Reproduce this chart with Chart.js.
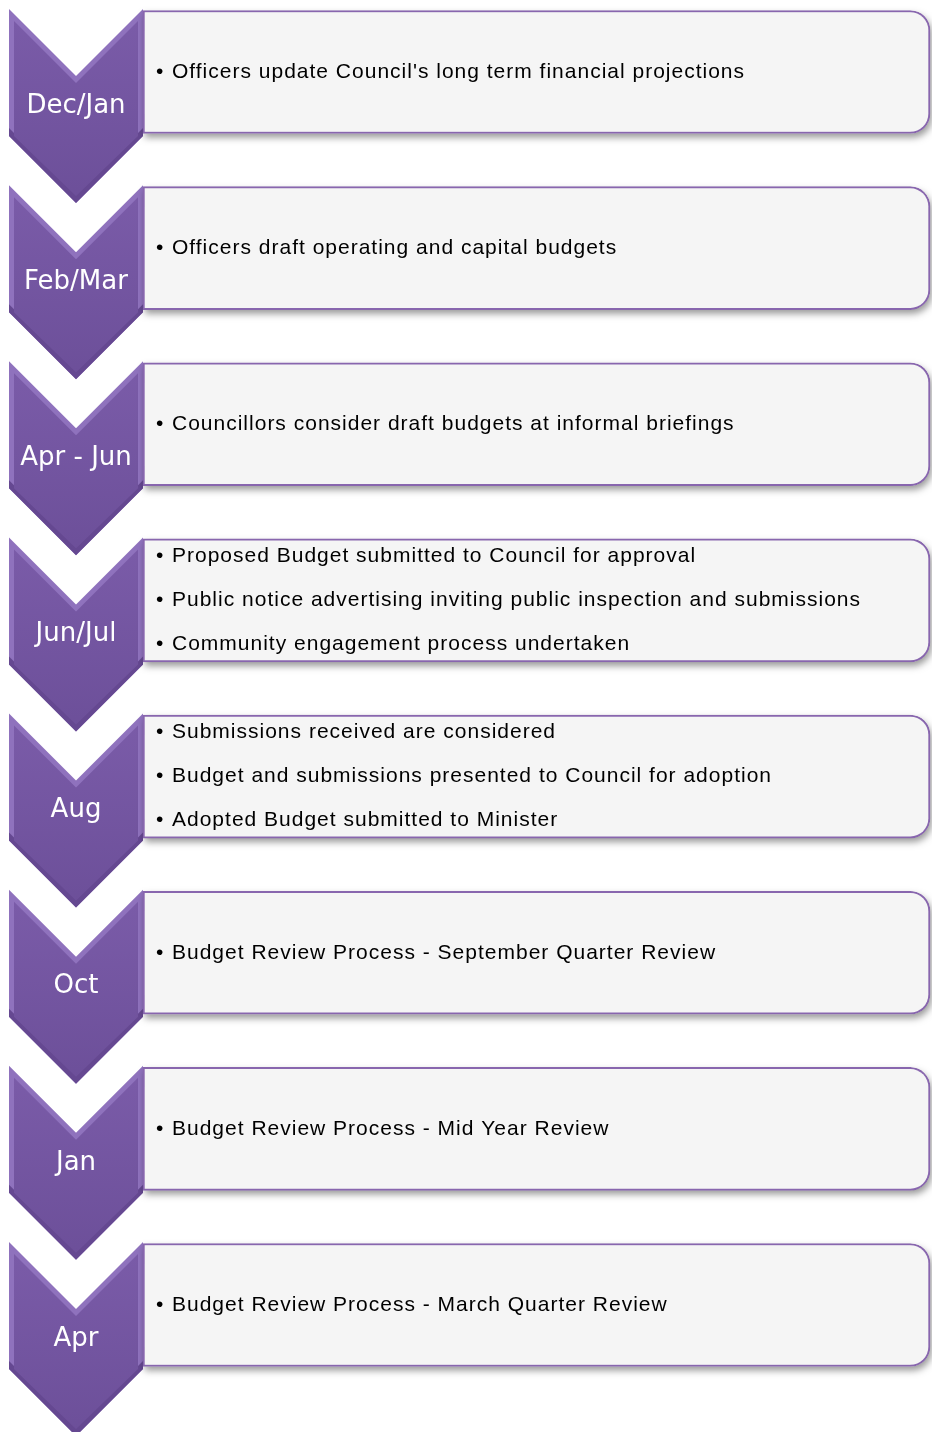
<!DOCTYPE html>
<html>
<head>
<meta charset="utf-8">
<script src="https://cdn.jsdelivr.net/npm/chart.js@4/dist/chart.umd.min.js"></script>
<style>
  html, body { margin: 0; padding: 0; background: #ffffff; }
  #wrap { width: 932px; height: 1432px; }
</style>
</head>
<body>
<div id="wrap"><canvas id="process" width="932" height="1432"></canvas></div>
<script>
// Stages of the budget cycle (chevrons)
var stages = ['Dec/Jan', 'Feb/Mar', 'Apr - Jun', 'Jun/Jul', 'Aug', 'Oct', 'Jan', 'Apr'];

// Activities for each stage (bullets in the boxes)
var tasks = [
  ["Officers update Council's long term financial projections"],
  ['Officers draft operating and capital budgets'],
  ['Councillors consider draft budgets at informal briefings'],
  ['Proposed Budget submitted to Council for approval',
   'Public notice advertising inviting public inspection and submissions',
   'Community engagement process undertaken'],
  ['Submissions received are considered',
   'Budget and submissions presented to Council for adoption',
   'Adopted Budget submitted to Minister'],
  ['Budget Review Process - September Quarter Review'],
  ['Budget Review Process - Mid Year Review'],
  ['Budget Review Process - March Quarter Review']
];

// every box spans the full width of the value axis
var boxSpan = [1, 1, 1, 1, 1, 1, 1, 1];

var purpleBorder = '#8866ae';

// Chevron drawn left of each box, placed from the category scale
function drawChevron(ctx, cx, top) {
  var hw = 67, side = 127, d = 67;
  var l = cx - hw, r = cx + hw;
  // outer (bevel) shape
  ctx.beginPath();
  ctx.moveTo(l, top);
  ctx.lineTo(cx, top + d);
  ctx.lineTo(r, top);
  ctx.lineTo(r, top + side);
  ctx.lineTo(cx, top + side + d);
  ctx.lineTo(l, top + side);
  ctx.closePath();
  ctx.fillStyle = '#8f72bd';
  ctx.fill();
  // darker lower bevel
  ctx.beginPath();
  ctx.moveTo(l, top + side - 8);
  ctx.lineTo(cx, top + side + d - 8);
  ctx.lineTo(r, top + side - 8);
  ctx.lineTo(r, top + side);
  ctx.lineTo(cx, top + side + d);
  ctx.lineTo(l, top + side);
  ctx.closePath();
  ctx.fillStyle = '#654891';
  ctx.fill();
  // inner face
  var i = 5, k = 7;
  ctx.beginPath();
  ctx.moveTo(l + i, top + i + k);
  ctx.lineTo(cx, top + d + k);
  ctx.lineTo(r - i, top + i + k);
  ctx.lineTo(r - i, top + side);
  ctx.lineTo(cx, top + side + d - k);
  ctx.lineTo(l + i, top + side);
  ctx.closePath();
  var g = ctx.createLinearGradient(0, top, 0, top + side + d);
  g.addColorStop(0, '#7b5ca9');
  g.addColorStop(1, '#6c4f99');
  ctx.fillStyle = g;
  ctx.fill();
}

var processPlugin = {
  id: 'processPlugin',
  beforeDatasetsDraw: function (chart) {
    var ctx = chart.ctx;
    var yScale = chart.scales.y;
    ctx.save();
    // chevrons
    stages.forEach(function (s, idx) {
      var c = yScale.getPixelForValue(idx);
      drawChevron(ctx, 76, c - 63);
    });
    // box shadows
    var meta = chart.getDatasetMeta(0);
    meta.data.forEach(function (bar) {
      var p = bar.getProps(['x', 'y', 'base', 'height'], true);
      var top = p.y - p.height / 2;
      ctx.save();
      ctx.shadowColor = 'rgba(0,0,0,0.40)';
      ctx.shadowBlur = 7;
      ctx.shadowOffsetX = 2;
      ctx.shadowOffsetY = 4;
      ctx.beginPath();
      ctx.roundRect(p.base, top, p.x - p.base, p.height, [0, 20, 20, 0]);
      ctx.fillStyle = '#f5f5f5';
      ctx.fill();
      ctx.restore();
    });
    ctx.restore();
  },
  afterDatasetsDraw: function (chart) {
    var ctx = chart.ctx;
    var yScale = chart.scales.y;
    var meta = chart.getDatasetMeta(0);
    ctx.save();
    // chevron labels
    ctx.fillStyle = '#ffffff';
    ctx.textAlign = 'center';
    ctx.textBaseline = 'middle';
    ctx.font = '26px "DejaVu Sans"';
    stages.forEach(function (s, idx) {
      var c = yScale.getPixelForValue(idx);
      ctx.fillText(s, 76, c + 34);
    });
    // bullet texts
    ctx.fillStyle = '#000000';
    ctx.textAlign = 'left';
    ctx.font = '21px "Liberation Sans"';
    ctx.letterSpacing = '1px';
    tasks.forEach(function (lines, idx) {
      var bar = meta.data[idx];
      var c = bar.getProps(['y'], true).y;
      var left = bar.getProps(['base'], true).base;
      var gap = 44;
      var start = c - (lines.length - 1) * gap / 2;
      lines.forEach(function (t, j) {
        var y = start + j * gap;
        ctx.fillText('\u2022', left + 13, y);
        ctx.fillText(t, left + 29, y);
      });
    });
    ctx.restore();
  }
};

var processChart = new Chart(document.getElementById('process'), {
  type: 'bar',
  data: {
    labels: stages,
    datasets: [{
      data: boxSpan,
      backgroundColor: '#f5f5f5',
      borderColor: purpleBorder,
      borderWidth: 2,
      borderSkipped: false,
      borderRadius: { topLeft: 0, bottomLeft: 0, topRight: 20, bottomRight: 20 },
      barThickness: 123,
      clip: false
    }]
  },
  options: {
    indexAxis: 'y',
    responsive: false,
    animation: false,
    layout: { padding: { left: 143, right: 2, top: 72, bottom: 127 } },
    scales: {
      x: { display: false, min: 0, max: 1 },
      y: { display: false, offset: false }
    },
    plugins: {
      legend: { display: false },
      tooltip: { enabled: false }
    }
  },
  plugins: [processPlugin]
});
</script>
</body>
</html>
